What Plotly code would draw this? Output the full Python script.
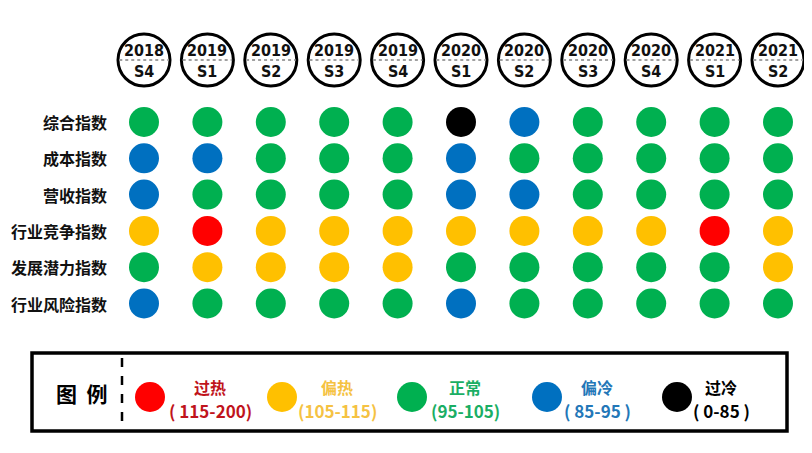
import plotly.graph_objects as go

# ---------------- data ----------------
periods_year = ["2018", "2019", "2019", "2019", "2019", "2020", "2020", "2020", "2020", "2021", "2021"]
periods_half = ["S4", "S1", "S2", "S3", "S4", "S1", "S2", "S3", "S4", "S1", "S2"]
indices = ["综合指数", "成本指数", "营收指数", "行业竞争指数", "发展潜力指数", "行业风险指数"]

# status codes: H=过热, W=偏热, N=正常, C=偏冷, K=过冷
status_composite = ["N", "N", "N", "N", "N", "K", "C", "N", "N", "N", "N"]
status_cost      = ["C", "C", "N", "N", "N", "C", "N", "N", "N", "N", "N"]
status_revenue   = ["C", "N", "N", "N", "N", "C", "C", "N", "N", "N", "N"]
status_compete   = ["W", "H", "W", "W", "W", "W", "W", "W", "W", "H", "W"]
status_potential = ["N", "W", "W", "W", "W", "N", "N", "N", "N", "N", "W"]
status_risk      = ["C", "N", "N", "N", "N", "C", "N", "N", "N", "N", "N"]
status_rows = [status_composite, status_cost, status_revenue,
               status_compete, status_potential, status_risk]

legend_codes = ["H", "W", "N", "C", "K"]
legend_names = ["过热", "偏热", "正常", "偏冷", "过冷"]
legend_ranges = ["( 115-200)", "(105-115)", "(95-105)", "( 85-95 )", "( 0-85 )"]

# ---------------- styles ----------------
dot_color = {"H": "#FF0000", "W": "#FFC000", "N": "#00B050", "C": "#0070C0", "K": "#000000"}
text_color = {"H": "#C0141C", "W": "#F5C242", "N": "#1AAE64", "C": "#2377B8", "K": "#000000"}

OFF = 8                  # page body margin
W, H = 812 - 2 * OFF, 453 - 2 * OFF
X0, DX = 144 - OFF, 63.4  # pixel of first column, column spacing
Y0, DY = 122 - OFF, 36.3  # pixel of first row, row spacing


def px_to_y(py):
    return (py - OFF - Y0) / DY


header_y = px_to_y(60)
ncol = len(periods_year)
cols = list(range(ncol))

fig = go.Figure()

# grid dots
for r, (name, row) in enumerate(zip(indices, status_rows)):
    fig.add_trace(go.Scatter(
        x=cols, y=[r] * ncol, mode="markers",
        marker=dict(size=30, color=[dot_color[s] for s in row], line=dict(width=0)),
        hoverinfo="text", text=[f"{name} {y}{h}" for y, h in zip(periods_year, periods_half)],
        showlegend=False))

# header circles
fig.add_trace(go.Scatter(
    x=cols, y=[header_y] * ncol, mode="markers",
    marker=dict(size=52, color="white", line=dict(width=3, color="black")),
    hoverinfo="skip", showlegend=False))

annotations = []
shapes = []
hdr_font = dict(family="DejaVu Sans Condensed, Liberation Sans Narrow, Arial Narrow, sans-serif",
                size=16, color="#111111")
for i in cols:
    annotations.append(dict(x=i, y=px_to_y(50), text=f"<b>{periods_year[i]}</b>", showarrow=False,
                            xref="x", yref="y", font=hdr_font, xanchor="center", yanchor="middle"))
    annotations.append(dict(x=i, y=px_to_y(71), text=f"<b>{periods_half[i]}</b>", showarrow=False,
                            xref="x", yref="y", font=hdr_font, xanchor="center", yanchor="middle"))
    shapes.append(dict(type="line", xref="x", yref="y", x0=i - 0.39, x1=i + 0.39,
                       y0=header_y, y1=header_y, line=dict(color="#A0A0A0", width=2, dash="dot"),
                       layer="above"))

# row labels
for r, name in enumerate(indices):
    annotations.append(dict(x=-0.56, y=r, text=f"<b>{name}</b>", showarrow=False, xref="x", yref="y",
                            xanchor="right", yanchor="middle",
                            font=dict(family="Noto Sans CJK SC", size=16, color="#111111")))


# legend (paper coordinates from screen pixels)
def px(xp):
    return (xp - OFF) / W


def py(yp):
    return 1 - (yp - OFF) / H


shapes.append(dict(type="rect", xref="paper", yref="paper", x0=px(32), x1=px(787), y0=py(353), y1=py(431),
                   line=dict(color="black", width=3.5), fillcolor="rgba(0,0,0,0)"))
shapes.append(dict(type="line", xref="paper", yref="paper", x0=px(122), x1=px(122), y0=py(358), y1=py(426),
                   line=dict(color="black", width=2.5, dash="dash")))
annotations.append(dict(x=px(82), y=py(393), xref="paper", yref="paper", text="<b>图  例</b>", showarrow=False,
                        font=dict(family="Noto Sans CJK SC", size=21, color="black"),
                        xanchor="center", yanchor="middle"))

legend_dot_x = [150, 282, 412, 547, 677]
legend_text_x = [210, 337, 465, 597, 721]
for code, nm, rg, dx, tx in zip(legend_codes, legend_names, legend_ranges, legend_dot_x, legend_text_x):
    shapes.append(dict(type="circle", xref="paper", yref="paper",
                       x0=px(dx - 15), x1=px(dx + 15), y0=py(397 + 15), y1=py(397 - 15),
                       fillcolor=dot_color[code], line=dict(width=0)))
    annotations.append(dict(x=px(tx), y=py(387), xref="paper", yref="paper", text=f"<b>{nm}</b>",
                            showarrow=False, xanchor="center", yanchor="middle",
                            font=dict(family="Noto Sans CJK SC", size=16, color=text_color[code])))
    annotations.append(dict(x=px(tx), y=py(410), xref="paper", yref="paper", text=f"<b>{rg}</b>",
                            showarrow=False, xanchor="center", yanchor="middle",
                            font=dict(family="Noto Sans CJK SC, Noto Sans", size=17, color=text_color[code])))

fig.update_layout(
    width=W, height=H, margin=dict(l=0, r=0, t=0, b=0),
    paper_bgcolor="white", plot_bgcolor="white",
    xaxis=dict(range=[-X0 / DX, (W - X0) / DX], visible=False, fixedrange=True),
    yaxis=dict(range=[(H - Y0) / DY, -Y0 / DY], visible=False, fixedrange=True),
    shapes=shapes, annotations=annotations, showlegend=False,
)

fig.write_html("out.html")
